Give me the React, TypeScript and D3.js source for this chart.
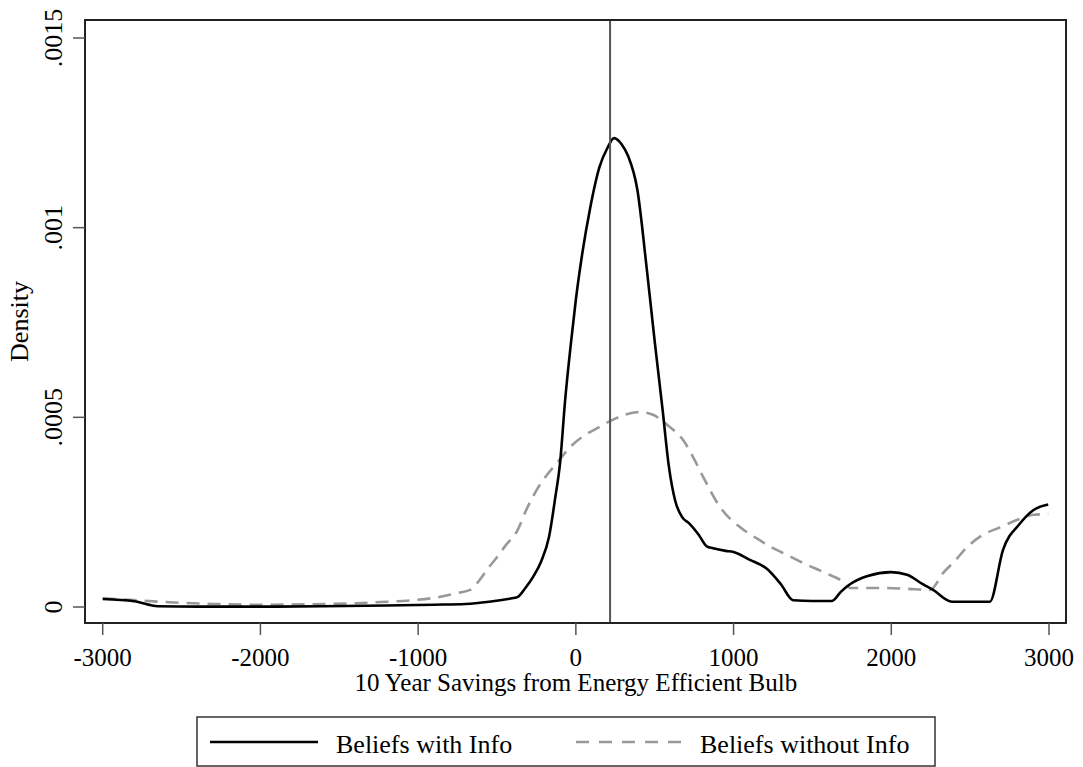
import React, {useRef, useEffect} from 'react';
import * as d3 from 'd3';

// kdensity estimates
const withInfoX = [-3000, -2800, -2650, -2400, -2000, -1600, -1200, -900, -700, -550, -420, -370, -320, -270, -220, -170, -130, -100, -68, -30, 0, 40, 90, 150, 200, 242, 290, 330, 390, 450, 500, 550, 590, 630, 674, 720, 780, 830, 870, 950, 1000, 1100, 1213, 1300, 1378, 1500, 1624, 1680, 1738, 1850, 2000, 2100, 2200, 2265, 2385, 2500, 2625, 2708, 2816, 2900, 2995];
const withInfoY = [0.000021, 0.000015, 0.000002, 0.000001, 0.000001, 0.000002, 0.000004, 0.000006, 0.000008, 0.000014, 0.000022, 0.000026, 0.00005, 0.00008, 0.00012, 0.000185, 0.00029, 0.00038, 0.000545, 0.0007, 0.00081, 0.00093, 0.00105, 0.00116, 0.00121, 0.001236, 0.00122, 0.00119, 0.0011, 0.00089, 0.0007, 0.00052, 0.00037, 0.00028, 0.000237, 0.00022, 0.00019, 0.00016, 0.000155, 0.000148, 0.000145, 0.000125, 0.0001, 0.00006, 0.000018, 0.000016, 0.000016, 0.00004, 0.00006, 0.000082, 0.000092, 0.000085, 0.00006, 0.000045, 0.000014, 0.000014, 0.000014, 0.00015, 0.00022, 0.000255, 0.00027];

const withoutInfoX = [-3000, -2800, -2600, -2300, -2000, -1700, -1400, -1240, -1030, -900, -750, -670, -626, -560, -499, -440, -373, -310, -246, -180, -119, -40, 46, 130, 217, 300, 407, 493, 580, 680, 750, 807, 920, 1042, 1150, 1251, 1350, 1441, 1580, 1695, 1738, 1948, 2100, 2246, 2329, 2400, 2481, 2580, 2690, 2800, 2900, 2995];
const withoutInfoY = [0.000023, 0.000018, 0.000013, 0.000008, 0.000006, 0.000007, 0.00001, 0.000013, 0.000018, 0.000024, 0.000037, 0.000045, 0.000063, 0.0001, 0.000132, 0.000165, 0.0002, 0.00026, 0.00031, 0.00035, 0.00038, 0.00042, 0.00045, 0.00047, 0.00049, 0.000505, 0.000514, 0.000506, 0.00048, 0.00044, 0.00039, 0.000343, 0.00026, 0.00021, 0.00018, 0.000155, 0.000135, 0.000116, 0.00009, 0.000066, 0.00005, 0.00005, 0.000048, 0.000045, 0.00009, 0.00012, 0.000158, 0.00019, 0.00021, 0.00023, 0.000243, 0.000245];

const xTicks = [-3000, -2000, -1000, 0, 1000, 2000, 3000];
const yTicks = [0, 0.0005, 0.001, 0.0015];
const yTickLabels = ['0', '.0005', '.001', '.0015'];
const refLine = 217;

const legendLabels = ['Beliefs with Info', 'Beliefs without Info'];

const W = 1083;
const H = 767;
const FONT = '"Liberation Serif", "Times New Roman", serif';

const App: React.FC = () => {
    const svgRef = useRef<SVGSVGElement>(null);

    useEffect(() => {
        if (!svgRef.current) return;
        const svg = d3.select(svgRef.current);
        svg.selectAll('*').remove();

        const frame = {left: 85, right: 1066, top: 20, bottom: 623};
        const x = d3.scaleLinear().domain([-3000, 3000]).range([102.7, 1049]);
        const y = d3.scaleLinear().domain([0, 0.0015]).range([607, 38]);

        svg.append('rect')
            .attr('width', W).attr('height', H).attr('fill', '#fff');

        const line = d3.line<[number, number]>()
            .x(d => x(d[0]))
            .y(d => y(d[1]))
            .curve(d3.curveMonotoneX);

        const withInfo = withInfoX.map((v, i) => [v, withInfoY[i]] as [number, number]);
        const withoutInfo = withoutInfoX.map((v, i) => [v, withoutInfoY[i]] as [number, number]);

        // dashed series first so the solid one sits on top
        svg.append('path')
            .attr('d', line(withoutInfo) as string)
            .attr('fill', 'none')
            .attr('stroke', '#999')
            .attr('stroke-width', 2.6)
            .attr('stroke-dasharray', '13,8');

        svg.append('path')
            .attr('d', line(withInfo) as string)
            .attr('fill', 'none')
            .attr('stroke', '#000')
            .attr('stroke-width', 2.6);

        // reference line
        svg.append('line')
            .attr('x1', x(refLine)).attr('x2', x(refLine))
            .attr('y1', frame.top).attr('y2', frame.bottom)
            .attr('stroke', '#555')
            .attr('stroke-width', 2);

        // plot frame
        svg.append('rect')
            .attr('x', frame.left).attr('y', frame.top)
            .attr('width', frame.right - frame.left)
            .attr('height', frame.bottom - frame.top)
            .attr('fill', 'none')
            .attr('stroke', '#222')
            .attr('stroke-width', 2);

        // y axis
        yTicks.forEach((t, i) => {
            svg.append('line')
                .attr('x1', frame.left - 12).attr('x2', frame.left)
                .attr('y1', y(t)).attr('y2', y(t))
                .attr('stroke', '#555').attr('stroke-width', 1.5);
            svg.append('text')
                .attr('transform', `translate(62,${y(t)}) rotate(-90)`)
                .attr('text-anchor', 'middle')
                .style('font-family', FONT)
                .style('font-size', '26px')
                .text(yTickLabels[i]);
        });

        svg.append('text')
            .attr('transform', `translate(28,${(frame.top + frame.bottom) / 2}) rotate(-90)`)
            .attr('text-anchor', 'middle')
            .style('font-family', FONT)
            .style('font-size', '26px')
            .text('Density');

        // x axis
        xTicks.forEach(t => {
            svg.append('line')
                .attr('x1', x(t)).attr('x2', x(t))
                .attr('y1', frame.bottom).attr('y2', frame.bottom + 12)
                .attr('stroke', '#555').attr('stroke-width', 1.5);
            svg.append('text')
                .attr('x', x(t)).attr('y', 666)
                .attr('text-anchor', 'middle')
                .style('font-family', FONT)
                .style('font-size', '25px')
                .text(String(t));
        });

        svg.append('text')
            .attr('x', (x(-3000) + x(3000)) / 2).attr('y', 691)
            .attr('text-anchor', 'middle')
            .style('font-family', FONT)
            .style('font-size', '25px')
            .text('10 Year Savings from Energy Efficient Bulb');

        // legend
        const lg = svg.append('g');
        lg.append('rect')
            .attr('x', 197).attr('y', 717)
            .attr('width', 738).attr('height', 49)
            .attr('fill', '#fff')
            .attr('stroke', '#333')
            .attr('stroke-width', 1.5);
        lg.append('line')
            .attr('x1', 210).attr('x2', 318)
            .attr('y1', 742).attr('y2', 742)
            .attr('stroke', '#000').attr('stroke-width', 2.6);
        lg.append('text')
            .attr('x', 336).attr('y', 753)
            .style('font-family', FONT)
            .style('font-size', '26px')
            .text(legendLabels[0]);
        lg.append('line')
            .attr('x1', 576).attr('x2', 683)
            .attr('y1', 742).attr('y2', 742)
            .attr('stroke', '#999').attr('stroke-width', 2.6)
            .attr('stroke-dasharray', '13,10');
        lg.append('text')
            .attr('x', 700).attr('y', 753)
            .style('font-family', FONT)
            .style('font-size', '26px')
            .text(legendLabels[1]);
    }, []);

    return (
        <svg
            ref={svgRef}
            width={W}
            height={H}
            viewBox={`0 0 ${W} ${H}`}
            style={{position: 'absolute', left: 0, top: 0, display: 'block'}}
        />
    );
};

export default App;
